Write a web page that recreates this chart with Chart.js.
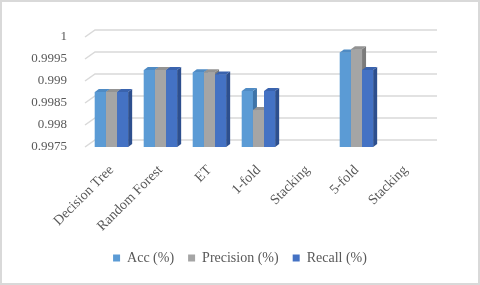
<!DOCTYPE html>
<html>
<head>
<meta charset="utf-8">
<script src="https://cdn.jsdelivr.net/npm/chart.js@4/dist/chart.umd.min.js"></script>
<style>
  html, body { margin: 0; padding: 0; background: #fff; }
  #wrap { width: 480px; height: 285px; }
</style>
</head>
<body>
<div id="wrap"><canvas id="chart"></canvas></div>
<script>
'use strict';

// values
const categories = ['Decision Tree', 'Random Forest', 'ET', '1-fold', 'Stacking', '5-fold', 'Stacking'];
const accValues = [0.99875, 0.99925, 0.9992, 0.99877, null, 0.99965, null];
const precisionValues = [0.99875, 0.99925, 0.9992, 0.99834, null, 0.99972, null];
const recallValues = [0.99875, 0.99925, 0.99915, 0.99877, null, 0.99925, null];
const yTicks = [0.9975, 0.998, 0.9985, 0.999, 0.9995, 1];

const fronts = ['#5B9BD5', '#A5A5A5', '#4472C4'];
const sides = ['#3E74A8', '#7B7B7B', '#2D4F8E'];
const tops = ['#4F8BC4', '#939393', '#3A63AE'];

// back wall grid lines with a slanted piece on the side wall
const wallGrid = {
    id: 'wallGrid',
    beforeDatasetsDraw(chart) {
        const ctx = chart.ctx;
        const area = chart.chartArea;
        const y = chart.scales.y;
        ctx.save();
        ctx.strokeStyle = '#d9d9d9';
        ctx.lineWidth = 1.5;
        y.ticks.forEach(function (t) {
            const py = y.getPixelForValue(t.value);
            ctx.beginPath();
            ctx.moveTo(area.left - 2, py);
            ctx.lineTo(area.left + 8, py - 7);
            ctx.lineTo(area.right + 7, py - 7);
            ctx.stroke();
        });
        ctx.restore();
    }
};

// excel-like depth on each bar, drawn from the bar elements
const depthBars = {
    id: 'depthBars',
    afterDatasetsDraw(chart) {
        const ctx = chart.ctx;
        const dx = 4, dy = 3;
        const floor = chart.chartArea.bottom;
        chart.data.datasets.forEach(function (ds, i) {
            const meta = chart.getDatasetMeta(i);
            meta.data.forEach(function (bar, j) {
                if (ds.data[j] === null) return;
                const l = bar.x - bar.width / 2, r = bar.x + bar.width / 2;
                const t = bar.y, b = Math.min(bar.base, floor);
                ctx.save();
                ctx.fillStyle = fronts[i];
                ctx.fillRect(l, t, r - l, b - t);
                ctx.fillStyle = sides[i];
                ctx.beginPath();
                ctx.moveTo(r, t); ctx.lineTo(r + dx, t - dy);
                ctx.lineTo(r + dx, b - dy); ctx.lineTo(r, b);
                ctx.closePath(); ctx.fill();
                ctx.fillStyle = tops[i];
                ctx.beginPath();
                ctx.moveTo(l, t); ctx.lineTo(l + dx, t - dy);
                ctx.lineTo(r + dx, t - dy); ctx.lineTo(r, t);
                ctx.closePath(); ctx.fill();
                ctx.restore();
            });
        });
    }
};

const frame = {
    id: 'frame',
    beforeDraw(chart) {
        const ctx = chart.ctx;
        ctx.save();
        ctx.fillStyle = '#fff';
        ctx.fillRect(0, 0, chart.width, chart.height);
        ctx.strokeStyle = '#d9d9d9';
        ctx.lineWidth = 2;
        ctx.strokeRect(1, 1, chart.width - 2, chart.height - 2);
        ctx.restore();
    }
};

const serif = { family: '"Liberation Serif", "Times New Roman", serif', size: 14 };
const textColor = '#595959';

function makeSet(label, values, i) {
    return {
        label: label,
        data: values,
        backgroundColor: fronts[i],
        borderWidth: 0,
        categoryPercentage: 0.68,
        barPercentage: 1.0,
    };
}

new Chart(document.getElementById('chart'), {
    type: 'bar',
    data: {
        labels: categories,
        datasets: [
            makeSet('Acc (%)', accValues, 0),
            makeSet('Precision (%)', precisionValues, 1),
            makeSet('Recall (%)', recallValues, 2),
        ],
    },
    options: {
        responsive: true,
        maintainAspectRatio: false,
        animation: false,
        layout: { padding: { top: 37, right: 0, bottom: 10, left: 0 } },
        plugins: {
            tooltip: { enabled: false },
            legend: {
                position: 'bottom',
                labels: {
                    color: textColor,
                    font: serif,
                    boxWidth: 7,
                    boxHeight: 7,
                    padding: 14,
                },
            },
        },
        scales: {
            x: {
                grid: { display: false },
                border: { display: false },
                ticks: {
                    color: textColor,
                    font: serif,
                    minRotation: 45,
                    maxRotation: 45,
                    padding: 7,
                    autoSkip: false,
                },
                afterFit(scale) { scale.height = 90; },
            },
            y: {
                min: yTicks[0],
                max: yTicks[yTicks.length - 1],
                afterBuildTicks(scale) {
                    scale.ticks = yTicks.map(v => ({ value: v }));
                },
                grid: { display: false },
                border: { display: false },
                ticks: {
                    color: textColor,
                    font: { family: serif.family, size: 13 },
                    padding: 12,
                    autoSkip: false,
                    callback: v => String(v),
                },
                afterFit(scale) { scale.width = 87; },
            },
            // empty right side, keeps the legend centred on the whole picture
            side: {
                type: 'linear',
                position: 'right',
                grid: { display: false },
                border: { display: false },
                ticks: { display: false },
                afterFit(scale) { scale.width = 50; },
            },
        },
    },
    plugins: [frame, wallGrid, depthBars],
});
</script>
</body>
</html>
